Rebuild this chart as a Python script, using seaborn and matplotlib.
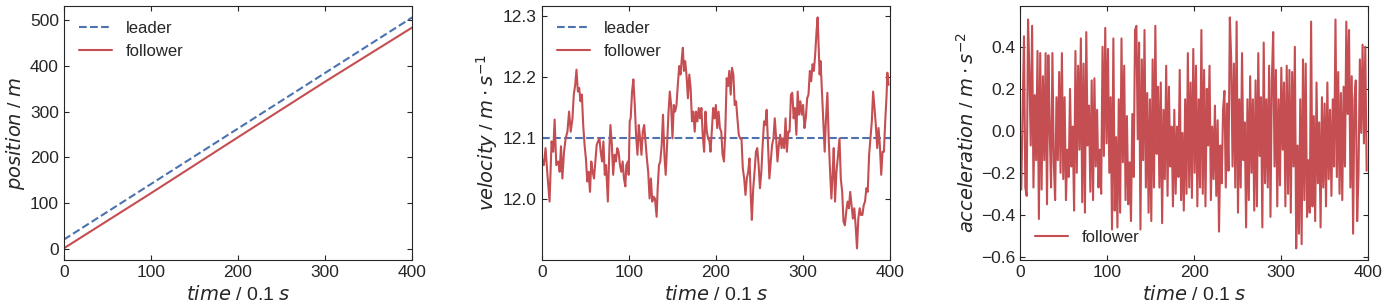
import numpy as np
import matplotlib
matplotlib.use('Agg')
import matplotlib.pyplot as plt
import seaborn as sns

# position (m), read at a few times along the straight lines
pos_time = [0, 100, 200, 300, 400]
pos_leader = [21, 142, 263, 384, 505]
pos_follower = [2, 122, 244, 365, 483]

# leader velocity is constant
vel_leader_time = [0, 400]
vel_leader = [12.1, 12.1]

# follower velocity (m/s)
vel_time = [
    0, 2.3, 4.3, 6.2, 8.9, 11.2, 13.1, 14.7, 16.6, 18.9, 20.5, 22.0, 23.6, 25.5, 27.4,
    29.4, 31.3, 33.2, 35.2, 36.7, 38.3, 39.8, 41.4, 42.9, 44.4, 46.0, 47.5, 49.1, 50.6, 52.2,
    53.7, 55.3, 56.8, 58.4, 59.9, 61.5, 63.0, 64.5, 66.1, 67.6, 69.2, 70.7, 72.3, 73.8, 75.8,
    77.7, 78.8, 80.4, 81.9, 83.5, 85.0, 86.6, 88.1, 89.7, 91.2, 92.8, 94.3, 95.9,
    97.0, 98.9, 99.7, 100.9, 102.0, 103.6, 105.1, 106.7, 108.2, 109.8, 111.3, 112.8, 114.4, 115.9, 117.5,
    119.0, 120.6, 122.1, 123.7, 125.2, 126.8, 128.3, 129.9, 131.8, 133.0, 134.5, 136.0, 137.6, 139.1, 140.7,
    142.2, 143.8, 145.3, 146.9, 148.4, 150.0, 151.5, 153.0, 154.6, 156.1, 157.7, 159.2, 160.8, 161.9, 163.1,
    164.6, 166.2, 167.7, 169.3, 170.8, 172.4, 173.9, 175.5, 177.0, 178.6, 180.1, 181.6, 183.2, 184.7, 186.3,
    187.8, 189.4, 190.9, 192.5,
    193.6, 195.1, 196.7, 198.2, 199.8, 201.3, 202.9, 204.4, 206.0, 207.5, 209.1, 210.6, 212.2, 213.7, 215.2,
    216.8, 218.3, 219.9, 221.4, 223.0, 224.5, 226.1, 227.6, 229.2, 230.7, 232.3, 233.8, 235.3, 236.9, 238.4,
    240.0, 241.1, 242.7, 244.2, 245.8, 247.3, 248.9, 250.4, 252.0, 253.5, 255.1, 256.6, 258.1, 259.7, 261.2,
    262.8, 264.3, 265.9, 267.4, 269.0, 270.5, 272.1, 273.6, 275.2, 276.7, 278.2, 279.8, 281.3, 282.9, 284.4,
    286.0, 287.5, 289.1, 290.6,
    292.2, 293.7, 295.3, 296.8, 298.4, 299.9, 301.5, 303.0, 304.6, 306.1, 307.7, 309.2, 310.8, 312.3, 313.8,
    315.4, 316.6, 317.7, 318.9, 320.0, 321.6, 323.1, 324.7, 326.2, 327.8, 329.3, 330.9, 332.4, 333.9, 335.1,
    336.6, 338.2, 339.7, 341.7, 343.2, 344.8, 346.3, 347.9, 349.4, 351.0, 352.5, 354.0, 355.6, 357.1, 358.7,
    360.2, 361.8, 363.3, 364.9, 366.4, 368.0, 369.5, 371.0, 372.6, 374.1, 375.7, 377.2, 378.8, 380.3, 381.9,
    383.4, 385.0, 386.5, 388.0, 389.6, 391.1, 392.7, 394.2, 395.8, 396.6, 398.0,
]
vel_follower = [
    12.066, 12.055, 12.083, 12.044, 11.995, 12.094, 12.077, 12.130, 12.055, 12.061, 12.044, 12.086, 12.033, 12.077, 12.099,
    12.110, 12.143, 12.110, 12.132, 12.171, 12.187, 12.212, 12.176, 12.182, 12.160, 12.171, 12.121, 12.088, 12.066, 12.028,
    12.044, 12.011, 12.061, 12.044, 12.033, 12.061, 12.088, 12.094, 12.099, 12.077, 12.061, 12.094, 12.039, 12.055, 11.995,
    12.088, 12.121, 12.088, 12.039, 12.072, 12.061, 12.083, 12.077, 12.055, 12.044, 12.061, 12.033, 12.020,
    12.055, 12.061, 12.039, 12.127, 12.132, 12.176, 12.196, 12.154, 12.105, 12.072, 12.121, 12.099, 12.072, 12.110, 12.121,
    12.094, 12.066, 12.044, 12.000, 12.033, 11.995, 12.003, 12.000, 11.970, 12.017, 12.055, 12.061, 12.088, 12.138, 12.072,
    12.039, 12.088, 12.138, 12.176, 12.154, 12.099, 12.154, 12.143, 12.154, 12.187, 12.218, 12.204, 12.232, 12.248, 12.210,
    12.226, 12.201, 12.165, 12.204, 12.182, 12.127, 12.143, 12.110, 12.143, 12.127, 12.149, 12.132, 12.149, 12.105, 12.077,
    12.143, 12.110, 12.099, 12.094,
    12.077, 12.110, 12.149, 12.132, 12.154, 12.116, 12.143, 12.116, 12.110, 12.072, 12.061, 12.110, 12.198, 12.185, 12.210,
    12.171, 12.215, 12.204, 12.154, 12.160, 12.132, 12.105, 12.099, 12.099, 12.050, 12.033, 12.006, 12.033, 12.044, 12.066,
    12.000, 11.965, 12.017, 12.044, 12.077, 12.083, 12.055, 12.017, 12.044, 12.088, 12.127, 12.121, 12.146, 12.088, 12.033,
    12.061, 12.088, 12.099, 12.132, 12.099, 12.061, 12.088, 12.105, 12.083, 12.099, 12.083, 12.132, 12.077, 12.110, 12.110,
    12.171, 12.174, 12.132, 12.149,
    12.105, 12.176, 12.138, 12.160, 12.138, 12.154, 12.116, 12.132, 12.165, 12.171, 12.210, 12.193, 12.221, 12.210, 12.237,
    12.276, 12.298, 12.254, 12.204, 12.226, 12.176, 12.132, 12.077, 12.132, 12.174, 12.099, 12.044, 12.000, 12.044, 12.083,
    11.995, 12.044, 12.066, 12.099, 12.033, 12.011, 11.962, 11.956, 11.978, 11.995, 11.984, 12.011, 11.989, 11.967, 11.984,
    11.956, 11.918, 11.967, 11.984, 11.973, 11.973, 11.989, 11.995, 12.017, 12.011, 12.072, 12.099, 12.127, 12.176, 12.149,
    12.121, 12.083, 12.116, 12.088, 12.039, 12.077, 12.077, 12.127, 12.171, 12.207, 12.187,
]

# follower acceleration (m/s^2), read on an even grid from t=0 to t=398
accel_follower = [
    0.0, -0.28, 0.08, 0.45, -0.27, -0.31, 0.53, 0.28, -0.07, 0.50,
    -0.27, 0.17, -0.14, 0.38, -0.42, 0.37, -0.28, 0.26, -0.14, 0.37,
    -0.35, 0.36, 0.0, -0.27, 0.37, -0.15, -0.33, 0.16, -0.14, 0.28,
    -0.20, 0.37, -0.23, 0.16, -0.33, -0.09, -0.22, 0.20, -0.17, 0.02,
    -0.38, 0.38, -0.20, 0.31, -0.09, 0.44, -0.34, 0.32, -0.39, 0.47,
    -0.07, 0.12, -0.29, 0.24, -0.33, 0.25, -0.17, 0.10, -0.27, -0.09,
    -0.30, 0.40, -0.12, 0.49, -0.06,
    0.39, -0.20, 0.16, -0.47, 0.44, -0.38, -0.03, -0.46, 0.15, -0.39,
    0.44, -0.15, 0.31, -0.33, 0.07, -0.35, -0.15, -0.43, 0.08, -0.22,
    0.48, 0.50, -0.04, 0.42, -0.47, 0.34, -0.14, 0.48, -0.27, 0.18,
    -0.39, 0.15, -0.43, 0.34, -0.27, 0.50, -0.11, 0.21, -0.27, 0.23,
    -0.44, 0.10, -0.23, 0.31, -0.31, 0.21, -0.17, 0.02, -0.36, 0.10,
    -0.30, 0.02, -0.22, 0.29, -0.33, -0.01, -0.38, 0.15, -0.30, 0.37,
    -0.27, 0.23, -0.32, 0.39, -0.20,
    0.31, -0.36, 0.15, -0.27, 0.48, -0.30, 0.29, -0.36, 0.20, -0.07,
    0.31, -0.33, 0.02, -0.23, 0.12, -0.31, 0.05, -0.48, -0.07, -0.25,
    0.10, 0.19, -0.27, 0.13, -0.19, 0.54, 0.34, -0.17, 0.32, -0.27,
    0.52, -0.39, 0.15, -0.27, 0.37, -0.14, 0.04, -0.46, 0.15, -0.33,
    0.26, -0.20, 0.15, -0.38, 0.24, -0.36, 0.37, -0.12, 0.16, -0.46,
    0.42, -0.25, 0.15, -0.27, 0.31, -0.41, 0.24, 0.47, -0.17, 0.29,
    -0.36, 0.15, -0.26, 0.30, -0.09,
    0.23, -0.36, 0.31, -0.30, 0.29, -0.39, 0.28, -0.17, 0.40, -0.56,
    -0.07, -0.49, 0.15, -0.54, 0.34, -0.33, 0.32, -0.41, -0.14, -0.39,
    0.52, -0.36, 0.07, -0.43, 0.23, -0.25, 0.04, -0.46, 0.16, -0.27,
    0.13, -0.36, 0.23, -0.23, 0.10, -0.31, 0.15, -0.17, 0.53, -0.22,
    0.28, -0.30, 0.18, -0.33, 0.21, -0.17, 0.52, 0.08, 0.48, -0.27,
    0.26, -0.49, 0.15, 0.24, -0.43, -0.20, 0.34, -0.01, 0.41, -0.06,
    0.40, -0.19,
]
accel_time = np.linspace(0, 398, len(accel_follower))

sns.set_style('ticks', {'xtick.direction': 'in', 'ytick.direction': 'in'})
plt.rcParams['font.family'] = ['Liberation Sans', 'DejaVu Sans']
plt.rcParams['xtick.top'] = True
plt.rcParams['ytick.right'] = True
plt.rcParams['xtick.labelsize'] = 12.5
plt.rcParams['ytick.labelsize'] = 12.5
plt.rcParams['axes.labelsize'] = 14

blue, red = sns.color_palette('deep')[0], sns.color_palette('deep')[3]

fig, axes = plt.subplots(1, 3, figsize=(13.85, 3.08), dpi=100)
fig.subplots_adjust(left=0.046, right=0.988, top=0.981, bottom=0.156, wspace=0.372)

ax = axes[0]
sns.lineplot(x=pos_time, y=pos_leader, ax=ax, color=blue, linestyle='--', label='leader')
sns.lineplot(x=pos_time, y=pos_follower, ax=ax, color=red, label='follower')
ax.set_ylabel('$position$ / $m$', labelpad=2)
ax.legend(loc='upper left', frameon=False, fontsize=12)

ax = axes[1]
sns.lineplot(x=vel_leader_time, y=vel_leader, ax=ax, color=blue, linestyle='--', label='leader')
sns.lineplot(x=vel_time, y=vel_follower, ax=ax, color=red, label='follower')
ax.set_ylabel(r'$velocity$ / $m \cdot s^{-1}$', labelpad=2)
ax.set_yticks([12.0, 12.1, 12.2, 12.3])
ax.legend(loc='upper left', frameon=False, fontsize=12)

ax = axes[2]
sns.lineplot(x=accel_time, y=accel_follower, ax=ax, color=red, label='follower')
ax.set_ylabel(r'$acceleration$ / $m \cdot s^{-2}$', labelpad=2)
ax.legend(loc='lower left', frameon=False, fontsize=12)

for ax in axes:
    ax.set_xlim(0, 400)
    ax.set_xlabel('$time$ / 0.1 $s$')

fig.savefig('out.png', dpi=100)
